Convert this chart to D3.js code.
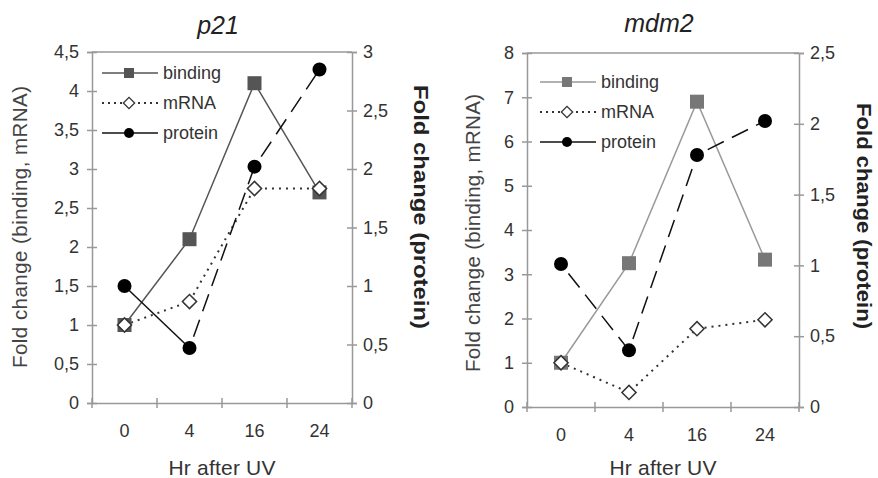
<!DOCTYPE html>
<html>
<head>
<meta charset="utf-8">
<script src="https://cdn.jsdelivr.net/npm/d3@7"></script>
<style>
  body { margin: 0; background: #fff; }
  svg { font-family: "Liberation Sans", Arial, sans-serif; }
</style>
</head>
<body>
<svg id="chart" width="878" height="478"></svg>
<script>
// categories (hours after UV)
var hours = ["0", "4", "16", "24"];

// p21 panel values
var p21Binding = [1.0, 2.1, 4.1, 2.7];
var p21Mrna = [1.0, 1.3, 2.75, 2.75];
var p21Protein = [1.0, 0.47, 2.02, 2.85];

// mdm2 panel values
var mdm2Binding = [1.0, 3.25, 6.9, 3.33];
var mdm2Mrna = [1.0, 0.33, 1.77, 1.97];
var mdm2Protein = [1.01, 0.4, 1.78, 2.02];

// tick values
var p21LeftTicks = [0, 0.5, 1, 1.5, 2, 2.5, 3, 3.5, 4, 4.5];
var p21RightTicks = [0, 0.5, 1, 1.5, 2, 2.5, 3];
var mdm2LeftTicks = [0, 1, 2, 3, 4, 5, 6, 7, 8];
var mdm2RightTicks = [0, 0.5, 1, 1.5, 2, 2.5];

var seriesNames = ["binding", "mRNA", "protein"];

var svg = d3.select("#chart");

// decimal comma like the original
function fmt(v) { return String(v).replace(".", ","); }

var panels = [
  { title: "p21", binding: p21Binding, mrna: p21Mrna, protein: p21Protein,
    leftTicks: p21LeftTicks, rightTicks: p21RightTicks,
    left: 92, right: 352, top: 52, bottom: 403,
    bindLine: "#555", bindMark: "#555", firstSolid: true,
    titleY: 34, leftLabX: 20, leftLabY: 227, leftLen: 282,
    rightLabX: 421, rightLabY: 207, rightLen: 244,
    legX: 102, legY: 73 },
  { title: "mdm2", binding: mdm2Binding, mrna: mdm2Mrna, protein: mdm2Protein,
    leftTicks: mdm2LeftTicks, rightTicks: mdm2RightTicks,
    left: 527, right: 799, top: 53, bottom: 407,
    bindLine: "#999", bindMark: "#777", firstSolid: false,
    titleY: 32, leftLabX: 473, leftLabY: 233, leftLen: 278,
    rightLabX: 864, rightLabY: 216, rightLen: 226,
    legX: 540, legY: 82 }
];

panels.forEach(function (p) {
  var g = svg.append("g");

  var x = d3.scaleBand().domain(hours).range([p.left, p.right]);
  var yL = d3.scaleLinear()
    .domain([0, d3.max(p.leftTicks)]).range([p.bottom, p.top]);
  var yR = d3.scaleLinear()
    .domain([0, d3.max(p.rightTicks)]).range([p.bottom, p.top]);
  var cx = function (d, i) { return x(hours[i]) + x.bandwidth() / 2; };

  // top border line
  g.append("line")
    .attr("x1", p.left).attr("x2", p.right)
    .attr("y1", p.top).attr("y2", p.top)
    .attr("stroke", "#999").attr("stroke-width", 1.5);

  // left axis
  var la = g.append("g").attr("transform", "translate(" + p.left + ",0)")
    .call(d3.axisLeft(yL).tickValues(p.leftTicks).tickFormat(fmt)
      .tickSize(5).tickPadding(8));
  la.selectAll(".tick line").attr("x1", 5);

  // right axis
  var ra = g.append("g").attr("transform", "translate(" + p.right + ",0)")
    .call(d3.axisRight(yR).tickValues(p.rightTicks).tickFormat(fmt)
      .tickSize(5).tickPadding(6));
  ra.selectAll(".tick line").attr("x1", -5);

  // bottom axis: labels centred in bands, ticks at band edges
  var ba = g.append("g").attr("transform", "translate(0," + p.bottom + ")")
    .call(d3.axisBottom(x).tickSize(0).tickPadding(21));
  var edges = hours.map(function (h) { return x(h); }).concat([p.right]);
  ba.selectAll(".edge").data(edges).enter().append("line")
    .attr("class", "edge")
    .attr("x1", function (d) { return d; }).attr("x2", function (d) { return d; })
    .attr("y1", -5).attr("y2", 5);

  [la, ra, ba].forEach(function (a) {
    a.selectAll(".domain").attr("stroke", "#999").attr("stroke-width", 1.5);
    a.selectAll("line").attr("stroke", "#999").attr("stroke-width", 1.5);
    a.selectAll("text").attr("font-size", 18).attr("fill", "#333")
      .attr("font-family", "Liberation Sans, Arial, sans-serif");
  });

  // titles and axis labels
  g.append("text").attr("x", (p.left + p.right) / 2 - 4).attr("y", p.titleY)
    .attr("text-anchor", "middle").attr("font-size", 25)
    .attr("font-style", "italic").attr("fill", "#222").text(p.title);

  g.append("text").attr("x", (p.left + p.right) / 2).attr("y", 475)
    .attr("text-anchor", "middle").attr("font-size", 21)
    .attr("textLength", 107).attr("lengthAdjust", "spacing")
    .attr("fill", "#333").text("Hr after UV");

  g.append("text")
    .attr("transform", "translate(" + p.leftLabX + "," + p.leftLabY + ") rotate(-90)")
    .attr("text-anchor", "middle").attr("dy", "0.35em").attr("font-size", 20.5)
    .attr("textLength", p.leftLen).attr("lengthAdjust", "spacing")
    .attr("fill", "#444").text("Fold change (binding, mRNA)");

  g.append("text")
    .attr("transform", "translate(" + p.rightLabX + "," + p.rightLabY + ") rotate(90)")
    .attr("text-anchor", "middle").attr("dy", "0.35em").attr("font-size", 21)
    .attr("textLength", p.rightLen).attr("lengthAdjust", "spacingAndGlyphs")
    .attr("font-weight", "bold").attr("fill", "#222").text("Fold change (protein)");

  // binding line
  var lineL = d3.line().x(cx).y(function (d) { return yL(d); });

  g.append("path").datum(p.binding).attr("d", lineL)
    .attr("fill", "none").attr("stroke", p.bindLine).attr("stroke-width", 1.5);

  // mRNA dotted line
  g.append("path").datum(p.mrna).attr("d", lineL)
    .attr("fill", "none").attr("stroke", "#333").attr("stroke-width", 2)
    .attr("stroke-dasharray", "2,5");

  // protein long dash line (segment by segment)
  var segs = d3.pairs(p.protein.map(function (v, i) { return [cx(v, i), yR(v)]; }));
  g.selectAll(".pseg").data(segs).enter().append("line")
    .attr("class", "pseg")
    .attr("x1", function (d) { return d[0][0]; }).attr("y1", function (d) { return d[0][1]; })
    .attr("x2", function (d) { return d[1][0]; }).attr("y2", function (d) { return d[1][1]; })
    .attr("stroke", "#111").attr("stroke-width", 1.5)
    .attr("stroke-dasharray", function (d, i) {
      return (i == 0 && p.firstSolid) ? null : "18,9";
    })
    .attr("stroke-dashoffset", -12);

  // markers
  g.selectAll(".bsq").data(p.binding).enter().append("rect")
    .attr("x", function (d, i) { return cx(d, i) - 7; })
    .attr("y", function (d) { return yL(d) - 7; })
    .attr("width", 14).attr("height", 14).attr("fill", p.bindMark);

  g.selectAll(".mdia").data(p.mrna).enter().append("path")
    .attr("transform", function (d, i) { return "translate(" + cx(d, i) + "," + yL(d) + ") rotate(45)"; })
    .attr("d", "M-5,-5H5V5H-5Z")
    .attr("fill", "#fff").attr("stroke", "#333").attr("stroke-width", 1.5);

  g.selectAll(".pcirc").data(p.protein).enter().append("circle")
    .attr("cx", cx).attr("cy", function (d) { return yR(d); })
    .attr("r", 7).attr("fill", "#000");

  // legend
  var leg = g.append("g").attr("transform", "translate(" + p.legX + "," + p.legY + ")");
  seriesNames.forEach(function (name, i) {
    var row = leg.append("g").attr("transform", "translate(0," + (i * 30) + ")");
    var line = row.append("line").attr("x1", 0).attr("x2", 56)
      .attr("y1", 0).attr("y2", 0).attr("stroke-width", 1.5);
    if (i == 0) {
      line.attr("stroke", p.bindLine);
      row.append("rect").attr("x", 22).attr("y", -5).attr("width", 10).attr("height", 10)
        .attr("fill", p.bindMark);
    } else if (i == 1) {
      line.attr("stroke", "#333").attr("stroke-dasharray", "2,4").attr("stroke-width", 2);
      row.append("path").attr("transform", "translate(27,0) rotate(45)")
        .attr("d", "M-4,-4H4V4H-4Z").attr("fill", "#fff")
        .attr("stroke", "#333").attr("stroke-width", 1.3);
    } else {
      line.attr("stroke", "#111");
      row.append("circle").attr("cx", 27).attr("cy", 0).attr("r", 5).attr("fill", "#000");
    }
    row.append("text").attr("x", 61).attr("y", 0).attr("dy", "0.35em")
      .attr("font-size", 18).attr("fill", "#333").text(name);
  });
});
</script>
</body>
</html>
